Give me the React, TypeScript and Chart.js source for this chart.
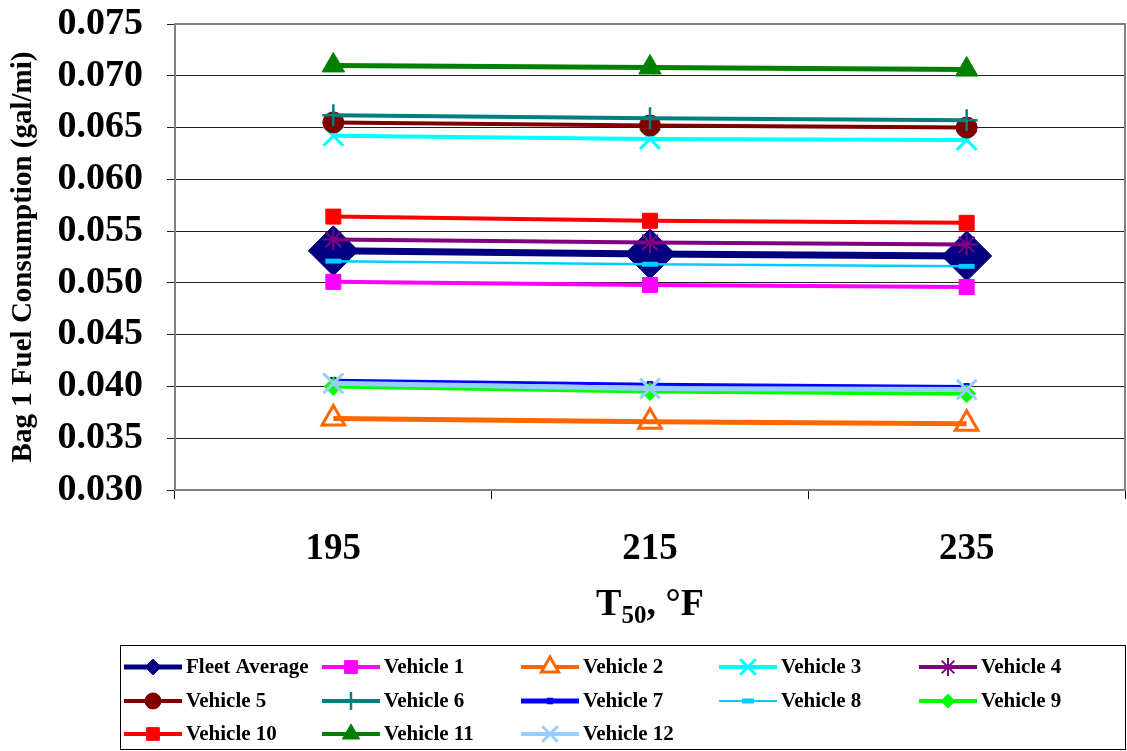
import React, { useEffect, useRef } from 'react';
import { Chart, registerables } from 'chart.js';
import { drawPoint } from 'chart.js/helpers';

Chart.register(...registerables);

// ---------- data ----------
const categories = ['195', '215', '235'];
const seriesNames = [
  'Fleet Average', 'Vehicle 1', 'Vehicle 2', 'Vehicle 3', 'Vehicle 4',
  'Vehicle 5', 'Vehicle 6', 'Vehicle 7', 'Vehicle 8', 'Vehicle 9',
  'Vehicle 10', 'Vehicle 11', 'Vehicle 12',
];
const fleetAverage = [0.0531, 0.0528, 0.0526];
const vehicle1 = [0.0501, 0.0498, 0.0496];
const vehicle2 = [0.0369, 0.0366, 0.0364];
const vehicle3 = [0.0642, 0.0639, 0.0638];
const vehicle4 = [0.0542, 0.0539, 0.0537];
const vehicle5 = [0.0655, 0.0652, 0.0650];
const vehicle6 = [0.0662, 0.0659, 0.0657];
const vehicle7 = [0.0406, 0.0402, 0.0400];
const vehicle8 = [0.0521, 0.0518, 0.0516];
const vehicle9 = [0.0400, 0.0395, 0.0393];
const vehicle10 = [0.0564, 0.0560, 0.0558];
const vehicle11 = [0.0710, 0.0708, 0.0706];
const vehicle12 = [0.0403, 0.0398, 0.0397];
const seriesValues = [
  fleetAverage, vehicle1, vehicle2, vehicle3, vehicle4, vehicle5, vehicle6,
  vehicle7, vehicle8, vehicle9, vehicle10, vehicle11, vehicle12,
];
const yMin = 0.03;
const yMax = 0.075;
const yStep = 0.005;
const yTitle = 'Bag 1 Fuel Consumption (gal/mi)';

// ---------- styles ----------
type Sty = { color: string; lw: number; ps: string; r: number; bw: number; fill: string; lr: number; llw: number };
const styles: Sty[] = [
  { color: '#000080', lw: 7, ps: 'rectRot', r: 25, bw: 1, fill: '#000080', lr: 8, llw: 5 },
  { color: '#FF00FF', lw: 4, ps: 'rect', r: 10.6, bw: 1, fill: '#FF00FF', lr: 9, llw: 4 },
  { color: '#FF6600', lw: 5, ps: 'triangle', r: 13, bw: 3, fill: 'rgba(255,255,255,0)', lr: 10, llw: 4 },
  { color: '#00FFFF', lw: 4, ps: 'crossRot', r: 14, bw: 3, fill: '#00FFFF', lr: 11, llw: 4 },
  { color: '#800080', lw: 4, ps: 'star', r: 11, bw: 2, fill: '#800080', lr: 9, llw: 4 },
  { color: '#800000', lw: 4, ps: 'circle', r: 10.5, bw: 1, fill: '#800000', lr: 8, llw: 4 },
  { color: '#008080', lw: 4, ps: 'cross', r: 11, bw: 2.5, fill: '#008080', lr: 9, llw: 4 },
  { color: '#0000FF', lw: 3, ps: 'rect', r: 4, bw: 1, fill: '#0000FF', lr: 4, llw: 5 },
  { color: '#00CCFF', lw: 2.5, ps: 'line', r: 8, bw: 5, fill: '#00CCFF', lr: 6, llw: 2 },
  { color: '#00FF00', lw: 4, ps: 'rectRot', r: 9, bw: 1, fill: '#00FF00', lr: 7, llw: 4 },
  { color: '#FF0000', lw: 4, ps: 'rect', r: 10.6, bw: 1, fill: '#FF0000', lr: 9, llw: 4 },
  { color: '#008000', lw: 5, ps: 'triangle', r: 13, bw: 1, fill: '#008000', lr: 10, llw: 4 },
  { color: '#99CCFF', lw: 5, ps: 'crossRot', r: 14, bw: 3, fill: '#99CCFF', lr: 11, llw: 4 },
];

const FONT = "'Times New Roman', 'Liberation Serif', serif";

const decorPlugin = {
  id: 'decor',
  beforeDatasetsDraw(chart: any) {
    const { ctx, chartArea } = chart;
    ctx.save();
    ctx.strokeStyle = '#808080';
    ctx.lineWidth = 2;
    ctx.strokeRect(chartArea.left, chartArea.top, chartArea.right - chartArea.left, chartArea.bottom - chartArea.top);
    ctx.restore();
  },
  afterDraw(chart: any) {
    const { ctx, chartArea } = chart;
    ctx.save();
    // x-axis title with subscript
    const cx = (chartArea.left + chartArea.right) / 2;
    const base = 615;
    const big = `bold 38px ${FONT}`;
    const small = `bold 25px ${FONT}`;
    ctx.fillStyle = '#000';
    ctx.textBaseline = 'alphabetic';
    ctx.textAlign = 'left';
    ctx.font = big;
    const wT = ctx.measureText('T').width;
    const wRest = ctx.measureText(', \u00B0F').width;
    ctx.font = small;
    const wSub = ctx.measureText('50').width;
    let x = cx - (wT + wSub + wRest) / 2;
    ctx.font = big;
    ctx.fillText('T', x, base);
    x += wT;
    ctx.font = small;
    ctx.fillText('50', x, base + 8);
    x += wSub;
    ctx.font = big;
    ctx.fillText(', \u00B0F', x, base);

    // legend
    const boxL = 120, boxT = 645, boxR = 1126, boxB = 750;
    ctx.strokeStyle = '#000';
    ctx.lineWidth = 1;
    ctx.strokeRect(boxL + 0.5, boxT + 0.5, boxR - boxL - 1, boxB - boxT - 1);
    const colX = [124, 322, 521, 719, 919];
    const rowY = [667, 701, 734];
    const lineLen = 58;
    ctx.font = `bold 21px ${FONT}`;
    ctx.textBaseline = 'middle';
    seriesNames.forEach((name, i) => {
      const s = styles[i];
      const lx = colX[i % 5];
      const ly = rowY[Math.floor(i / 5)];
      ctx.strokeStyle = s.color;
      ctx.lineWidth = s.llw;
      ctx.beginPath();
      ctx.moveTo(lx, ly);
      ctx.lineTo(lx + lineLen, ly);
      ctx.stroke();
      ctx.fillStyle = i === 2 ? '#ffffff' : s.fill;
      ctx.strokeStyle = s.color;
      ctx.lineWidth = s.bw;
      drawPoint(ctx, { pointStyle: s.ps, rotation: 0, radius: s.lr, borderWidth: s.bw } as any, lx + lineLen / 2, ly);
      ctx.fillStyle = '#000';
      ctx.fillText(name, lx + lineLen + 4, ly + 1);
    });
    ctx.restore();
  },
};

export default function App() {
  const ref = useRef<HTMLCanvasElement>(null);
  useEffect(() => {
    if (!ref.current) return;
    const datasets = seriesNames.map((name, i) => {
      const s = styles[i];
      return {
        label: name,
        data: seriesValues[i],
        borderColor: s.color,
        backgroundColor: s.fill,
        borderWidth: s.lw,
        pointStyle: s.ps as any,
        pointRadius: s.r,
        pointHoverRadius: s.r,
        pointBorderWidth: s.bw,
        pointBorderColor: s.color,
        pointBackgroundColor: s.fill,
        tension: 0,
        fill: false,
        order: seriesNames.length - i,
      };
    });
    const chart = new Chart(ref.current, {
      type: 'line',
      data: { labels: categories, datasets },
      plugins: [decorPlugin],
      options: {
        animation: false,
        responsive: false,
        devicePixelRatio: 1,
        layout: { autoPadding: false, padding: { left: 0, right: 2, top: 24, bottom: 109 } },
        plugins: { legend: { display: false }, tooltip: { enabled: false } },
        scales: {
          x: {
            type: 'category',
            offset: true,
            grid: { display: true, drawOnChartArea: false, drawTicks: true, tickLength: 9, offset: true, color: '#000' },
            border: { display: true, color: '#333', width: 2 },
            ticks: { color: '#000', padding: 28, maxRotation: 0, font: { family: FONT, size: 37, weight: 'bold' } },
            afterFit: (s: any) => { s.height = 152; s.paddingLeft = 0; s.paddingRight = 0; },
          },
          y: {
            min: yMin,
            max: yMax,
            grid: { color: '#222', lineWidth: 1, tickLength: 8 },
            border: { display: true, color: '#808080', width: 2 },
            ticks: {
              stepSize: yStep,
              color: '#000',
              padding: 24,
              font: { family: FONT, size: 38, weight: 'bold' },
              callback: (v: any) => Number(v).toFixed(3),
            },
            title: {
              display: true,
              text: yTitle,
              color: '#000',
              font: { family: FONT, size: 29, weight: 'bold' },
              padding: { top: 6, bottom: 0 },
            },
            afterFit: (s: any) => { s.width = 175; s.paddingTop = 0; s.paddingBottom = 0; },
          },
        },
      } as any,
    });
    return () => chart.destroy();
  }, []);
  return (
    <div style={{ position: 'absolute', left: 0, top: 0, width: 1127, height: 751, background: '#fff' }}>
      <canvas ref={ref} width={1127} height={751} />
    </div>
  );
}
